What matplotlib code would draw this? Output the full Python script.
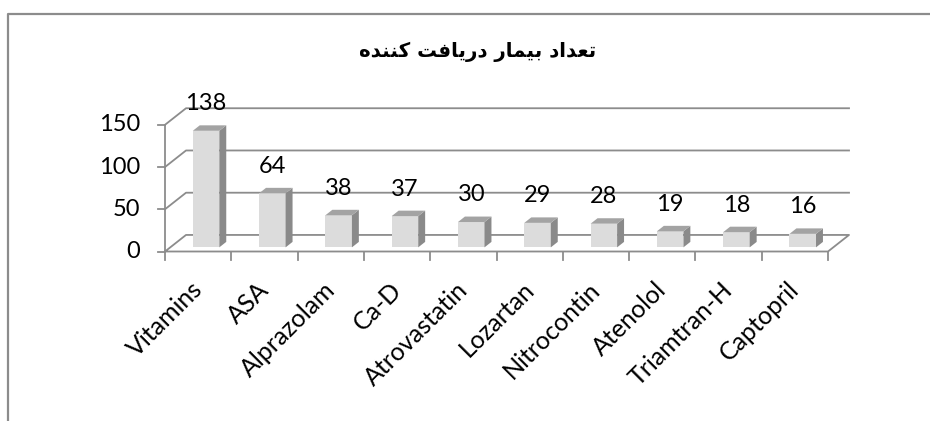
import matplotlib
matplotlib.use("Agg")
import matplotlib.pyplot as plt
from matplotlib.patches import Polygon
from matplotlib.lines import Line2D

# chart data
drugs = ["Vitamins", "ASA", "Alprazolam", "Ca-D", "Atrovastatin",
         "Lozartan", "Nitrocontin", "Atenolol", "Triamtran-H", "Captopril"]
patients = [138, 64, 38, 37, 30, 29, 28, 19, 18, 16]
y_ticks = [0, 50, 100, 150]
title = "تعداد بیمار دریافت کننده"

# simple Persian shaping (matplotlib draws glyphs left-to-right, unjoined)
FORMS = {
    "ا": ("\uFE8D", "\uFE8E", None, None),
    "ب": ("\uFE8F", "\uFE90", "\uFE91", "\uFE92"),
    "ت": ("\uFE95", "\uFE96", "\uFE97", "\uFE98"),
    "د": ("\uFEA9", "\uFEAA", None, None),
    "ر": ("\uFEAD", "\uFEAE", None, None),
    "ع": ("\uFEC9", "\uFECA", "\uFECB", "\uFECC"),
    "ف": ("\uFED1", "\uFED2", "\uFED3", "\uFED4"),
    "م": ("\uFEE1", "\uFEE2", "\uFEE3", "\uFEE4"),
    "ن": ("\uFEE5", "\uFEE6", "\uFEE7", "\uFEE8"),
    "ه": ("\uFEE9", "\uFEEA", "\uFEEB", "\uFEEC"),
    "ی": ("\uFBFC", "\uFBFD", "\uFBFE", "\uFBFF"),
    "ک": ("\uFB8E", "\uFB8F", "\uFB90", "\uFB91"),
}


def shape_rtl(text):
    out = []
    for k, ch in enumerate(text):
        forms = FORMS.get(ch)
        if forms is None:
            out.append(ch)
            continue
        prev = text[k - 1] if k > 0 else None
        nxt = text[k + 1] if k + 1 < len(text) else None
        join_prev = prev in FORMS and FORMS[prev][2] is not None
        join_next = nxt in FORMS and forms[2] is not None
        idx = {(False, False): 0, (True, False): 1,
               (False, True): 2, (True, True): 3}[(join_prev, join_next)]
        out.append(forms[idx])
    return "".join(reversed(out))


GRID = "#8c8c8c"
FRONT = "#dcdcdc"
SIDE = "#8a8a8a"
TOP = "#a3a3a3"
FONT = "Lato"
FS = 17

# oblique "3D" depth of the plot box, in data units
DX, DY = 0.317, 19.6
F0, FB = 0.25, 0.33      # bar front depth, bar thickness (fractions of depth)
W = 0.40                 # bar width

fig = plt.figure(figsize=(9.3, 4.21), dpi=100)
ax = fig.add_axes([165 / 930, 169.5 / 421, 663 / 930, 126.7 / 421])
ax.set_xlim(0, len(drugs))
ax.set_ylim(0, 150)
ax.axis("off")

n = len(drugs)
lw = 1.3

# back wall gridlines
for v in y_ticks[1:]:
    ax.plot([0, DX, n + DX], [v, v + DY, v + DY], color=GRID, lw=lw,
            clip_on=False, zorder=1)
# floor
ax.plot([0, DX, n + DX, n, 0], [0, DY, DY, 0, 0], color=GRID, lw=lw,
        clip_on=False, zorder=1)
# value axis + ticks
ax.plot([0, 0], [0, 150], color=GRID, lw=lw, clip_on=False, zorder=1)
for v in y_ticks:
    ax.plot([-0.105, 0], [v, v], color=GRID, lw=lw, clip_on=False, zorder=1)
    ax.text(-0.38, v, str(v), ha="right", va="center", fontsize=FS,
            family=FONT, color="black")
# category ticks
for i in range(n + 1):
    ax.plot([i, i], [0, -9.5], color=GRID, lw=lw, clip_on=False, zorder=1)

# bars
bdx, bdy = FB * DX, FB * DY
y0 = F0 * DY
for i, (name, v) in enumerate(zip(drugs, patients)):
    xl = i + 0.5 - W / 2 + F0 * DX + 0.04
    xr = xl + W
    ax.add_patch(Polygon([(xl, y0), (xr, y0), (xr, y0 + v), (xl, y0 + v)],
                         closed=True, fc=FRONT, ec="none", zorder=3,
                         clip_on=False))
    ax.add_patch(Polygon([(xr, y0), (xr + bdx, y0 + bdy),
                          (xr + bdx, y0 + v + bdy), (xr, y0 + v)],
                         closed=True, fc=SIDE, ec="none", zorder=3,
                         clip_on=False))
    ax.add_patch(Polygon([(xl, y0 + v), (xr, y0 + v),
                          (xr + bdx, y0 + v + bdy), (xl + bdx, y0 + v + bdy)],
                         closed=True, fc=TOP, ec="none", zorder=3,
                         clip_on=False))
    ax.text((xl + xr) / 2, y0 + v + 32, str(v), ha="center", va="center",
            fontsize=FS, family=FONT, color="black", zorder=4)
    ax.text(i + 0.63, -31, name, rotation=45, ha="right", va="top",
            fontsize=18, family=FONT, color="black")

fig.text(478 / 930, 1 - 52 / 421, shape_rtl(title), ha="center", va="center",
         fontsize=14.2, fontweight="bold", family=["DejaVu Sans"])

# outer frame (only top and left edges are visible in the crop)
fig.add_artist(Line2D([8 / 930, 8 / 930, 1.0], [0.0, 1 - 14 / 421, 1 - 14 / 421],
                      color="#8c8c8c", lw=1.6, transform=fig.transFigure))

fig.savefig("out.png", dpi=100)
